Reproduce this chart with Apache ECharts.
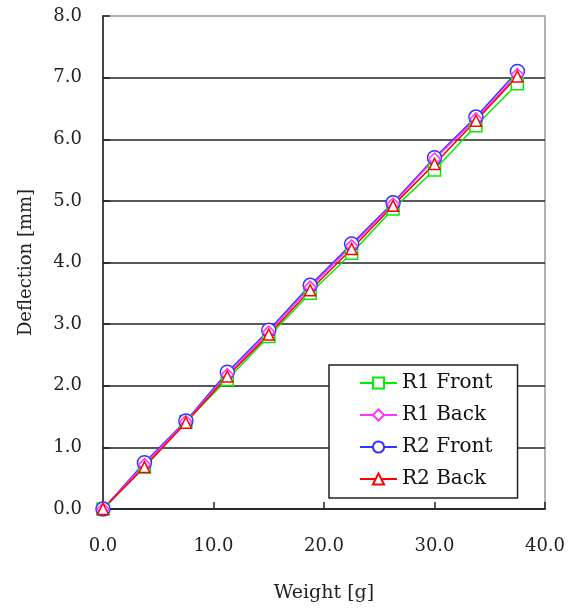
<!DOCTYPE html>
<html>
<head>
<meta charset="utf-8">
<script src="https://cdn.jsdelivr.net/npm/echarts/dist/echarts.min.js"></script>
<style>
html,body{margin:0;padding:0;background:#fff;}
#c{width:573px;height:608px;}
</style>
</head>
<body>
<div id="c"></div>
<script>
var weights = [0, 3.75, 7.5, 11.25, 15, 18.75, 22.5, 26.25, 30, 33.75, 37.5];
var r1Front = [0, 0.68, 1.42, 2.10, 2.80, 3.50, 4.15, 4.87, 5.50, 6.22, 6.90];
var r1Back  = [0, 0.72, 1.42, 2.18, 2.87, 3.60, 4.27, 4.95, 5.68, 6.33, 7.05];
var r2Front = [0, 0.75, 1.43, 2.22, 2.90, 3.63, 4.30, 4.97, 5.70, 6.36, 7.10];
var r2Back  = [0, 0.68, 1.40, 2.15, 2.83, 3.55, 4.22, 4.92, 5.60, 6.30, 7.02];
var seriesNames = ['R1 Front', 'R1 Back', 'R2 Front', 'R2 Back'];

function pairs(ys){ return weights.map(function(w,i){ return [w, ys[i]]; }); }

var FONT = 'DejaVu Serif';
var chart = echarts.init(document.getElementById('c'), null, {renderer:'canvas'});

function mk(name, ys, color, symbol, size){
  return {
    name: name, type: 'line', data: pairs(ys),
    symbol: symbol, symbolSize: size,
    lineStyle: {color: color, width: 1.5},
    itemStyle: {color: '#fff', borderColor: color, borderWidth: 1.5},
    emphasis: {disabled: true},
    animation: false
  };
}

chart.setOption({
  animation: false,
  grid: {left: 103, right: 28, top: 16, bottom: 99, show: true, borderColor: '#999', borderWidth: 1.5, backgroundColor: '#fff'},
  xAxis: {
    type: 'value', min: 0, max: 40, interval: 10,
    name: 'Weight [g]', nameLocation: 'middle', nameGap: 75,
    nameTextStyle: {fontFamily: FONT, fontSize: 19, color: '#222'},
    axisLine: {lineStyle: {color: '#222', width: 1.5}},
    axisTick: {inside: true, length: 7, lineStyle: {color: '#222', width: 1.5}},
    axisLabel: {fontFamily: FONT, fontSize: 18, color: '#222', margin: 28, formatter: function(v){ return v.toFixed(1); }},
    splitLine: {show: false}
  },
  yAxis: {
    type: 'value', min: 0, max: 8, interval: 1,
    name: 'Deflection [mm]', nameLocation: 'middle', nameGap: 68,
    nameTextStyle: {fontFamily: FONT, fontSize: 18, color: '#222'},
    axisLine: {show: true, lineStyle: {color: '#222', width: 1.5}},
    axisTick: {show: true, inside: true, length: 7, lineStyle: {color: '#222', width: 1.5}},
    axisLabel: {fontFamily: FONT, fontSize: 18, color: '#222', margin: 21, formatter: function(v){ return v.toFixed(1); }},
    splitLine: {show: true, showMaxLine: false, lineStyle: {color: '#222', width: 1.5}}
  },
  legend: {
    data: seriesNames,
    orient: 'vertical',
    left: 329, top: 365,
    padding: [8, 25, 9, 30],
    itemWidth: 37, itemHeight: 14, itemGap: 12,
    backgroundColor: '#fff', borderColor: '#222', borderWidth: 1.5,
    textStyle: {fontFamily: FONT, fontSize: 20, color: '#111', lineHeight: 20},
    selectedMode: false
  },
  series: [
    mk('R1 Front', r1Front, '#00ee00', 'rect', 12),
    mk('R2 Front', r2Front, '#3333ff', 'circle', 14),
    mk('R1 Back', r1Back, '#ff33ff', 'diamond', 12),
    mk('R2 Back', r2Back, '#ff0000', 'triangle', 11)
  ]
});
</script>
</body>
</html>
